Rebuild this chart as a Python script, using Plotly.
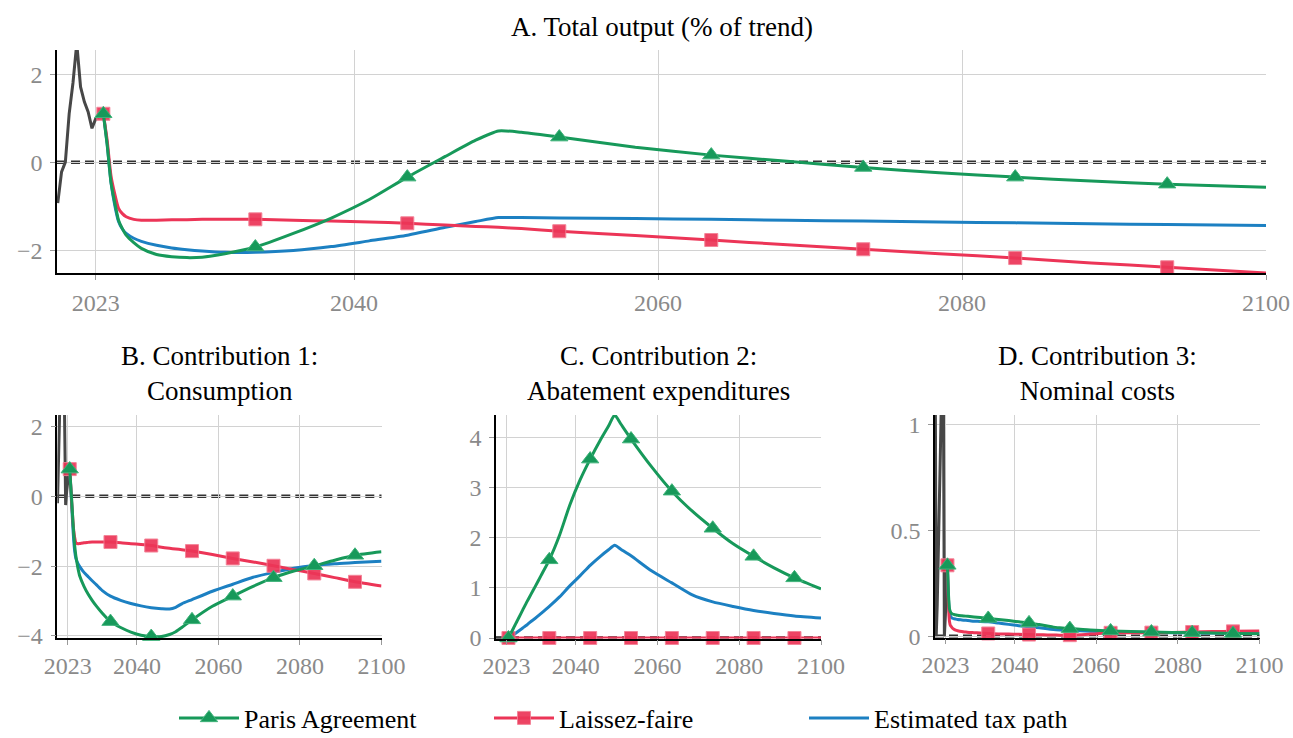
import plotly.graph_objects as go

# ---------------------------------------------------------------- data
YEARS = [2023.5, 2023.75, 2024.0, 2024.25, 2024.5, 2024.75, 2025.0, 2025.5, 2026.0,
         2027.0, 2028.0, 2029.0, 2030.0, 2031.5, 2033.5, 2036.0, 2038.5, 2041.0,
         2043.5, 2046.0, 2048.0, 2049.5, 2051.0, 2053.5, 2058.5, 2063.5, 2068.5,
         2073.5, 2078.5, 2083.5, 2088.5, 2093.5, 2100.0]
MARKER_YEARS = [2023.5, 2033.5, 2043.5, 2053.5, 2063.5, 2073.5, 2083.5, 2093.5]
HIST_YEARS = [2020.5, 2020.75, 2021.0, 2021.25, 2021.5, 2021.75, 2022.0, 2022.25,
              2022.5, 2022.75, 2023.0, 2023.25, 2023.5]

# A. Total output (% of trend)
paris_A = [1.10, 0.40, -0.45, -0.92, -1.32, -1.51, -1.66, -1.83, -1.96, -2.10, -2.15,
           -2.17, -2.16, -2.08, -1.93, -1.62, -1.27, -0.85, -0.34, 0.13, 0.50, 0.71,
           0.68, 0.57, 0.34, 0.16, 0.02, -0.12, -0.24, -0.34, -0.43, -0.50, -0.57]
laissez_A = [1.10, 0.50, -0.30, -0.72, -1.05, -1.17, -1.24, -1.30, -1.32, -1.32, -1.31,
             -1.31, -1.30, -1.30, -1.30, -1.32, -1.34, -1.36, -1.39, -1.43, -1.46, -1.48,
             -1.51, -1.57, -1.67, -1.77, -1.88, -1.98, -2.08, -2.18, -2.29, -2.39, -2.52]
tax_A = [1.10, 0.42, -0.45, -0.98, -1.35, -1.52, -1.62, -1.73, -1.80, -1.89, -1.95,
         -1.99, -2.02, -2.05, -2.05, -2.01, -1.92, -1.79, -1.66, -1.48, -1.35, -1.26,
         -1.26, -1.27, -1.28, -1.30, -1.32, -1.34, -1.36, -1.38, -1.40, -1.42, -1.44]
hist_A = [-0.93, -0.22, 0.00, 1.10, 1.80, 2.70, 1.71, 1.37, 1.14, 0.77, 0.99, 1.05, 1.10]

# B. Consumption
paris_B = [0.78, 0.30, -0.15, -0.65, -1.10, -1.45, -1.70, -2.05, -2.30, -2.58, -2.80,
           -2.98, -3.14, -3.35, -3.59, -3.76, -3.89, -3.98, -4.02, -4.02, -3.96, -3.88,
           -3.76, -3.54, -3.15, -2.86, -2.58, -2.33, -2.14, -1.99, -1.83, -1.69, -1.59]
laissez_B = [0.78, 0.30, -0.20, -0.65, -1.00, -1.20, -1.33, -1.36, -1.35, -1.33, -1.32,
             -1.31, -1.31, -1.31, -1.31, -1.33, -1.36, -1.38, -1.41, -1.46, -1.49, -1.51,
             -1.53, -1.57, -1.67, -1.78, -1.88, -1.99, -2.10, -2.21, -2.33, -2.45, -2.57]
tax_B = [0.78, 0.25, -0.30, -0.85, -1.30, -1.60, -1.78, -1.92, -2.02, -2.18, -2.30,
         -2.42, -2.53, -2.70, -2.86, -2.98, -3.07, -3.14, -3.19, -3.22, -3.23, -3.18,
         -3.08, -2.96, -2.72, -2.52, -2.32, -2.18, -2.06, -1.98, -1.93, -1.90, -1.86]
hist_B = [-0.20, 1.50, 3.50, 5.00, 5.50, 6.00, 4.50, 2.00, -0.25, 0.15, 0.45, 0.65, 0.78]

# C. Abatement expenditures
paris_C = [0.00, 0.04, 0.08, 0.12, 0.16, 0.20, 0.24, 0.32, 0.40, 0.56, 0.72, 0.87,
           1.02, 1.25, 1.56, 2.05, 2.65, 3.15, 3.57, 3.95, 4.23, 4.45, 4.27, 3.97,
           3.42, 2.93, 2.53, 2.19, 1.88, 1.63, 1.40, 1.20, 0.98]
laissez_C = [0.00, 0.00, 0.00, 0.00, 0.00, 0.00, 0.00, 0.00, 0.00, 0.00, 0.00, 0.00,
             0.00, 0.00, 0.00, 0.00, 0.00, 0.00, 0.00, 0.00, 0.00, 0.00, 0.00, 0.00,
             0.00, 0.00, 0.00, 0.00, 0.00, 0.00, 0.00, 0.00, 0.00]
tax_C = [0.00, 0.01, 0.02, 0.035, 0.05, 0.065, 0.08, 0.11, 0.14, 0.20, 0.26, 0.33,
         0.39, 0.49, 0.63, 0.82, 1.04, 1.24, 1.45, 1.63, 1.76, 1.85, 1.77, 1.64,
         1.34, 1.10, 0.86, 0.72, 0.63, 0.55, 0.49, 0.44, 0.40]
hist_C = [0.00, 0.00, 0.00, 0.00, 0.00, 0.00, 0.00, 0.00, 0.00, 0.00, 0.00, 0.00, 0.00]

# D. Nominal costs
paris_D = [0.335, 0.200, 0.130, 0.115, 0.108, 0.105, 0.103, 0.101, 0.099, 0.097, 0.095,
           0.093, 0.091, 0.088, 0.084, 0.079, 0.074, 0.068, 0.063, 0.055, 0.048, 0.043,
           0.040, 0.036, 0.029, 0.025, 0.022, 0.020, 0.018, 0.017, 0.015, 0.013, 0.012]
laissez_D = [0.335, 0.150, 0.070, 0.050, 0.044, 0.038, 0.034, 0.029, 0.026, 0.022, 0.020,
             0.018, 0.017, 0.015, 0.013, 0.011, 0.010, 0.009, 0.008, 0.007, 0.006, 0.006,
             0.005, 0.005, 0.010, 0.016, 0.017, 0.017, 0.018, 0.020, 0.022, 0.023, 0.025]
tax_D = [0.335, 0.180, 0.110, 0.095, 0.088, 0.085, 0.083, 0.081, 0.079, 0.077, 0.075,
         0.073, 0.071, 0.070, 0.068, 0.062, 0.056, 0.050, 0.045, 0.040, 0.035, 0.032,
         0.030, 0.028, 0.024, 0.021, 0.019, 0.018, 0.017, 0.016, 0.015, 0.015, 0.014]
hist_D = [1.30, 0.00, 0.15, 0.35, 0.60, 0.85, 1.10, 1.50, 1.20, 0.00, 0.10, 0.20, 0.335]

SERIES_NAMES = ["Paris Agreement", "Laissez-faire", "Estimated tax path"]
X_TICKS = [2023, 2040, 2060, 2080, 2100]
X_RANGE = [2020.45, 2100]

# ---------------------------------------------------------------- style
GREEN = "#17995a"
RED = "#ec3557"
BLUE = "#1c80c2"
HIST = "#474747"
GRID = "#d2d2d2"
TICK_GREY = "#8a8a8a"
FONT = "Liberation Serif"
W, H = 1293, 738

fig = go.Figure()

panels = [
    dict(ax="", paris=paris_A, laissez=laissez_A, tax=tax_A, hist=hist_A, xstand=2,
         xdom=(57, 1266), ydom=(50, 273), yrange=[-2.52, 2.55], yticks=[-2, 0, 2]),
    dict(ax="2", paris=paris_B, laissez=laissez_B, tax=tax_B, hist=hist_B, xstand=0,
         xdom=(57.3, 381.5), ydom=(415, 638), yrange=[-4.06, 2.33], yticks=[-4, -2, 0, 2]),
    dict(ax="3", paris=paris_C, laissez=laissez_C, tax=tax_C, hist=hist_C, xstand=0,
         xdom=(496, 821), ydom=(415, 638.5), yrange=[-0.01, 4.45], yticks=[0, 1, 2, 3, 4]),
    dict(ax="4", paris=paris_D, laissez=laissez_D, tax=tax_D, hist=hist_D, xstand=0,
         xdom=(935, 1259.5), ydom=(415, 637.5), yrange=[-0.006, 1.045], yticks=[0, 0.5, 1]),
]


def marker_subset(values):
    xs, ys = [], []
    for yr, v in zip(YEARS, values):
        if yr in MARKER_YEARS:
            xs.append(yr)
            ys.append(v)
    return xs, ys


tri = dict(symbol="triangle-up", size=15, color=GREEN, line=dict(color="#3fb37a", width=1))
sq = dict(symbol="square", size=13, color=RED, opacity=0.92, line=dict(color="#f37a90", width=1))
smooth = dict(shape="spline", smoothing=0.6)

for p in panels:
    xa, ya = "x" + p["ax"], "y" + p["ax"]
    # historical path
    fig.add_trace(go.Scatter(x=HIST_YEARS, y=p["hist"], mode="lines",
                             line=dict(color=HIST, width=3), showlegend=False,
                             hoverinfo="skip", xaxis=xa, yaxis=ya))
    # estimated tax path
    fig.add_trace(go.Scatter(x=YEARS, y=p["tax"], mode="lines",
                             line=dict(color=BLUE, width=3, **smooth), showlegend=False,
                             xaxis=xa, yaxis=ya))
    # laissez-faire
    fig.add_trace(go.Scatter(x=YEARS, y=p["laissez"], mode="lines",
                             line=dict(color=RED, width=3, **smooth), showlegend=False,
                             xaxis=xa, yaxis=ya))
    mx, my = marker_subset(p["laissez"])
    fig.add_trace(go.Scatter(x=mx, y=my, mode="markers", marker=sq, cliponaxis=False,
                             showlegend=False, xaxis=xa, yaxis=ya))
    # Paris agreement
    fig.add_trace(go.Scatter(x=YEARS, y=p["paris"], mode="lines",
                             line=dict(color=GREEN, width=3, **smooth), showlegend=False,
                             xaxis=xa, yaxis=ya))
    mx, my = marker_subset(p["paris"])
    fig.add_trace(go.Scatter(x=mx, y=my, mode="markers", marker=tri, cliponaxis=False,
                             showlegend=False, xaxis=xa, yaxis=ya))

# legend keys
fig.add_trace(go.Scatter(x=[None], y=[None], name=SERIES_NAMES[0], mode="lines+markers",
                         line=dict(color=GREEN, width=3), marker=tri))
fig.add_trace(go.Scatter(x=[None], y=[None], name=SERIES_NAMES[1], mode="lines+markers",
                         line=dict(color=RED, width=3), marker=sq))
fig.add_trace(go.Scatter(x=[None], y=[None], name=SERIES_NAMES[2], mode="lines",
                         line=dict(color=BLUE, width=3)))

axis_common = dict(showgrid=True, gridcolor=GRID, gridwidth=1, showline=True,
                   linecolor="black", linewidth=1.5, ticks="outside", ticklen=5,
                   tickcolor="#9a9a9a", zeroline=False, automargin=False,
                   tickfont=dict(family=FONT, size=24, color=TICK_GREY))

layout = dict(width=W, height=H,
              margin=dict(l=0, r=0, t=0, b=0, autoexpand=False),
              paper_bgcolor="white", plot_bgcolor="white",
              font=dict(family=FONT, color="black"))
shapes = []
for p in panels:
    sfx = p["ax"]
    x0, x1 = p["xdom"]
    yt, yb = p["ydom"]
    layout["xaxis" + sfx] = dict(axis_common, domain=[x0 / W, x1 / W], range=X_RANGE,
                                 tickvals=X_TICKS, anchor="y" + sfx,
                                 ticklabelstandoff=p["xstand"])
    layout["yaxis" + sfx] = dict(axis_common, domain=[1 - yb / H, 1 - yt / H],
                                 range=p["yrange"], tickvals=p["yticks"],
                                 anchor="x" + sfx, ticklabelstandoff=3)
    # dashed zero reference, drawn beneath the grid so the grid line splits each dash
    shapes.append(dict(type="line", xref="x" + sfx + " domain", yref="y" + sfx,
                       x0=0, x1=1, y0=0, y1=0, layer="below",
                       line=dict(color="#333333", width=3.5, dash="9px,5px")))
layout["shapes"] = shapes

title_font = dict(family=FONT, size=27, color="black")
layout["annotations"] = [
    dict(text="A. Total output (% of trend)", x=661.5 / W, y=1 - 27 / H),
    dict(text="B. Contribution 1:<br>Consumption", x=219 / W, y=1 - 373 / H),
    dict(text="C. Contribution 2:<br>Abatement expenditures", x=658.5 / W, y=1 - 373 / H),
    dict(text="D. Contribution 3:<br>Nominal costs", x=1097 / W, y=1 - 373 / H),
]
for a in layout["annotations"]:
    a.update(xref="paper", yref="paper", xanchor="center", yanchor="middle",
             showarrow=False, font=title_font)

layout["legend"] = dict(orientation="h", x=0.5, xanchor="center", y=1 - 718 / H,
                        yanchor="middle", font=dict(family=FONT, size=26, color="black"),
                        bgcolor="rgba(0,0,0,0)", itemwidth=60,
                        entrywidth=240, entrywidthmode="pixels")

fig.update_layout(**layout)
fig.write_html("out.html")
